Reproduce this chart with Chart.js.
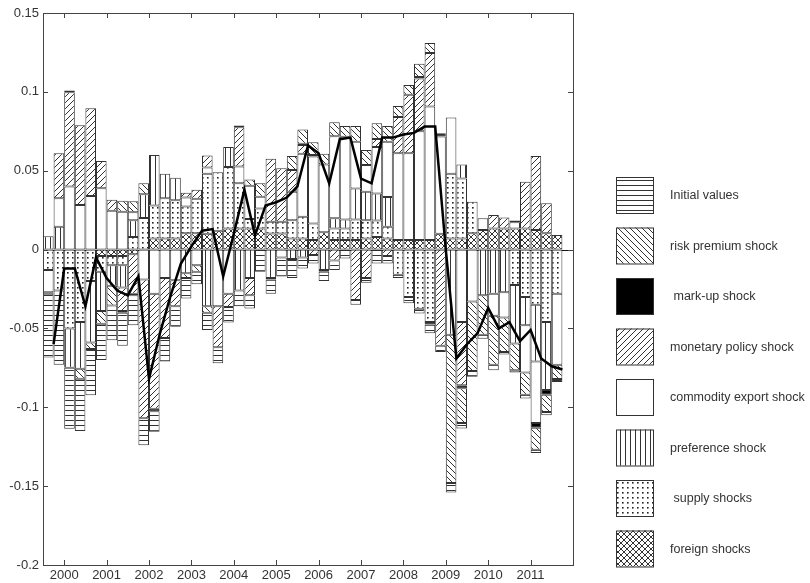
<!DOCTYPE html>
<html>
<head>
<meta charset="utf-8">
<script src="https://cdn.jsdelivr.net/npm/chart.js@4.4.1/dist/chart.umd.min.js"></script>
<style>
  html, body { margin: 0; padding: 0; background: #fff; }
  canvas { display: block; }
</style>
</head>
<body>
<canvas id="decompChart" width="810" height="583"></canvas>
<script>
// quarters shown as bars (bar spans the quarter, the line sits at quarter end)
var periods = [
    '1999Q3', '1999Q4',
    '2000Q1', '2000Q2', '2000Q3', '2000Q4',
    '2001Q1', '2001Q2', '2001Q3', '2001Q4',
    '2002Q1', '2002Q2', '2002Q3', '2002Q4',
    '2003Q1', '2003Q2', '2003Q3', '2003Q4',
    '2004Q1', '2004Q2', '2004Q3', '2004Q4',
    '2005Q1', '2005Q2', '2005Q3', '2005Q4',
    '2006Q1', '2006Q2', '2006Q3', '2006Q4',
    '2007Q1', '2007Q2', '2007Q3', '2007Q4',
    '2008Q1', '2008Q2', '2008Q3', '2008Q4',
    '2009Q1', '2009Q2', '2009Q3', '2009Q4',
    '2010Q1', '2010Q2', '2010Q3', '2010Q4',
    '2011Q1', '2011Q2', '2011Q3'
];
var yearTicks = [2000, 2001, 2002, 2003, 2004, 2005, 2006, 2007, 2008, 2009, 2010, 2011];
var yTicks = [-0.2, -0.15, -0.1, -0.05, 0, 0.05, 0.1, 0.15];

var initialValues = [
    -0.0405, -0.047, -0.0386, -0.0331, -0.0294, -0.023, -0.022, -0.021, -0.019, -0.017,
    -0.013, -0.015, -0.013, -0.013, -0.008, -0.011, -0.010, -0.0098, -0.010, -0.0084,
    -0.014, -0.009, -0.012, -0.012, -0.007, -0.0053, -0.006, -0.006, -0.0056, -0.003,
    -0.003, -0.0088, -0.0048, -0.002, -0.004, -0.003, -0.0055, -0.0039, -0.006, -0.0035,
    -0.0037, -0.0025, -0.0035, -0.0016, -0.0015, -0.0025, -0.002, -0.002, -0.002
];
var riskPremium = [
    0, 0, 0, -0.0063, -0.004, -0.008, -0.0125, 0.007, 0.007, 0.007,
    0, 0, 0, -0.003, -0.004, -0.004, 0, 0, 0, 0.004,
    0.0085, 0, 0, 0.009, 0.009, 0.008, 0.0068, 0.0089, 0.0068, 0.010,
    0.0095, 0.010, 0.010, 0.007, 0.0063, 0.0085, 0.0063, 0, -0.094, -0.022,
    -0.044, -0.025, -0.031, -0.022, -0.017, -0.014, -0.014, -0.011, -0.009
];
var markUp = [
    -0.001, 0, 0.001, 0, 0, 0, 0, -0.001, -0.001, 0,
    -0.0015, 0, 0, 0, 0, 0, 0, 0, 0.001, 0,
    0, -0.001, 0, 0, 0.0008, 0.001, -0.001, 0, 0, 0,
    0, 0, 0, 0, 0, 0.001, -0.0015, 0.002, 0, -0.002,
    0, 0, 0, 0, 0.001, 0, -0.003, -0.003, 0
];
var monetaryPolicy = [
    0, 0.0285, 0.0598, 0.0505, 0.0556, 0.0173, 0.007, -0.015, -0.025, -0.088,
    -0.073, -0.038, -0.0166, 0.003, 0.0057, 0.0076, -0.026, -0.0084, 0.025, -0.011,
    0, 0.040, 0.034, 0.0138, 0.0055, -0.0035, 0, -0.007, 0, -0.032,
    -0.018, 0.005, -0.004, 0.023, 0.037, 0.0334, 0.034, -0.061, 0, -0.040,
    0, 0, 0.0085, 0.007, 0, 0.0296, 0.047, 0.019, 0
];
var commodityExport = [
    -0.014, 0.018, 0.040, 0.0283, 0.034, 0.0389, 0.0246, 0.024, 0.005, -0.019,
    -0.028, -0.018, -0.0194, 0.0057, -0.010, 0.004, -0.036, -0.028, 0.0106, 0.021,
    0.0075, 0, -0.005, 0.018, 0.040, 0.0425, 0.043, 0.052, 0.0525, 0.0296,
    0.017, 0.0296, 0.035, 0.055, 0.0551, 0.069, 0.0847, 0.0617, 0.0357, -0.046,
    -0.033, 0.0074, -0.014, -0.016, 0.004, -0.030, -0.039, 0, -0.045
];
var preference = [
    0.0085, 0.0145, -0.025, -0.0296, -0.039, -0.025, -0.013, -0.014, 0.0106, 0.015,
    0.032, 0.0155, 0.0142, -0.015, 0, -0.036, 0, 0.0127, -0.026, -0.018,
    0, -0.018, 0, -0.006, -0.005, 0, -0.013, 0.0064, 0.0057, 0.0197,
    0.018, 0.017, 0.019, 0, 0, 0, 0, 0, -0.054, 0.009,
    0, -0.029, -0.028, -0.027, -0.037, -0.018, -0.036, -0.043, 0
];
var supply = [
    -0.013, -0.026, -0.050, -0.046, -0.020, -0.010, -0.006, -0.006, 0.008, 0.020,
    0.021, 0.0255, 0.0243, 0.017, 0.022, 0.038, 0.037, 0.039, 0.0286, 0.006,
    0.0126, 0.0074, 0.0074, 0.0116, 0.0138, 0.0105, 0, 0.0074, 0.0074, 0.013,
    0.0116, 0.0105, 0.0074, -0.016, -0.030, -0.0375, -0.046, 0, 0.041, 0.038,
    0.0201, 0, 0, 0, -0.0225, -0.030, -0.035, -0.046, -0.028
];
var foreign = [
    0, 0, 0, 0, 0, -0.004, -0.004, -0.004, -0.003, 0,
    0.007, 0.007, 0.007, 0.0103, 0.0103, 0.010, 0.012, 0.0134, 0.0134, 0.0134,
    0.0134, 0.0102, 0.0102, 0.007, 0.007, 0.006, 0.011, 0.006, 0.006, 0.006,
    0.007, 0.008, 0.007, 0.006, 0.006, 0.006, 0.006, 0.010, 0.007, 0.007,
    0.0103, 0.0124, 0.0134, 0.0134, 0.0134, 0.0134, 0.0124, 0.0103, 0.0092
];
var total = [
    -0.060, -0.012, -0.012, -0.036, -0.005, -0.018, -0.026, -0.029, -0.017, -0.082,
    -0.054, -0.030, -0.009, 0.002, 0.012, 0.013, -0.017, 0.010, 0.038, 0.009,
    0.028, 0.030, 0.033, 0.040, 0.066, 0.061, 0.042, 0.070, 0.071, 0.045,
    0.042, 0.071, 0.071, 0.073, 0.074, 0.078, 0.078, 0.000, -0.069, -0.060,
    -0.053, -0.037, -0.050, -0.046, -0.058, -0.051, -0.069, -0.074, -0.076
];

document.addEventListener("DOMContentLoaded", function () {
    var canvas = document.getElementById('decompChart');
    var ctx = canvas.getContext('2d');

    Chart.defaults.font.family = '"Liberation Sans", Arial, sans-serif';
    Chart.defaults.font.size = 13;
    Chart.defaults.color = '#333';

    function quarterStart(p) {
        return parseInt(p.slice(0, 4), 10) + (parseInt(p.slice(5), 10) - 1) * 0.25;
    }

    // small tiles turned into fill patterns, like the matlab hatch fills
    function makePattern(kind) {
        var t = document.createElement('canvas');
        var s = 6;
        if (kind === 'hlines') { t.width = 6; t.height = 5; }
        else if (kind === 'vlines') { t.width = 5; t.height = 6; }
        else if (kind === 'dots') { t.width = 5; t.height = 5; }
        else { t.width = s; t.height = s; }
        var g = t.getContext('2d');
        g.fillStyle = kind === 'solid' ? '#000' : '#fff';
        g.fillRect(0, 0, t.width, t.height);
        g.strokeStyle = '#333';
        g.lineWidth = 1;
        g.beginPath();
        if (kind === 'hlines') {
            g.moveTo(0, 0.5); g.lineTo(6, 0.5);
        } else if (kind === 'vlines') {
            g.moveTo(0.5, 0); g.lineTo(0.5, 6);
        } else if (kind === 'back' || kind === 'cross') {
            g.moveTo(0, 0); g.lineTo(s, s);
            g.moveTo(-1, s - 1); g.lineTo(1, s + 1);
            g.moveTo(s - 1, -1); g.lineTo(s + 1, 1);
        }
        if (kind === 'fwd' || kind === 'cross') {
            g.moveTo(0, s); g.lineTo(s, 0);
            g.moveTo(-1, 1); g.lineTo(1, -1);
            g.moveTo(s - 1, s + 1); g.lineTo(s + 1, s - 1);
        }
        g.stroke();
        if (kind === 'dots') {
            g.fillStyle = '#222';
            g.fillRect(2, 2, 1.6, 1.6);
        }
        return ctx.createPattern(t, 'repeat');
    }

    // legend order (top to bottom)
    var series = [
        { label: 'Initial values', data: initialValues, fill: makePattern('hlines') },
        { label: 'risk premium shock', data: riskPremium, fill: makePattern('back') },
        { label: ' mark-up shock', data: markUp, fill: makePattern('solid') },
        { label: 'monetary policy shock', data: monetaryPolicy, fill: makePattern('fwd') },
        { label: 'commodity export shock', data: commodityExport, fill: makePattern('blank') },
        { label: 'preference shock', data: preference, fill: makePattern('vlines') },
        { label: ' supply shocks', data: supply, fill: makePattern('dots') },
        { label: 'foreign shocks', data: foreign, fill: makePattern('cross') }
    ];

    // stacking starts at zero with the last legend entry
    var datasets = series.slice().reverse().map(function (s) {
        return {
            label: s.label,
            order: 1,
            data: s.data.map(function (v, i) {
                return { x: quarterStart(periods[i]) + 0.125, y: v === 0 ? null : v };
            }),
            backgroundColor: s.fill,
            borderColor: '#333',
            borderWidth: 1,
            borderSkipped: false,
            inflateAmount: 0,
            barPercentage: 1,
            categoryPercentage: 1
        };
    });

    datasets.push({
        type: 'line',
        label: 'total',
        order: 0,
        stack: 'total',
        data: total.map(function (v, i) {
            return { x: quarterStart(periods[i]) + 0.25, y: v };
        }),
        borderColor: '#000',
        borderWidth: 2.5,
        pointRadius: 0,
        fill: false,
        tension: 0
    });

    var framePlugin = {
        id: 'frame',
        beforeDatasetsDraw: function (chart) {
            var c = chart.ctx, a = chart.chartArea;
            var y0 = Math.round(chart.scales.y.getPixelForValue(0)) + 0.5;
            c.save();
            c.strokeStyle = '#111';
            c.lineWidth = 1;
            c.beginPath();
            c.moveTo(a.left, y0);
            c.lineTo(a.right, y0);
            c.stroke();
            c.restore();
        },
        afterDraw: function (chart) {
            var c = chart.ctx, a = chart.chartArea;
            var xs = chart.scales.x, ys = chart.scales.y;
            c.save();
            c.strokeStyle = '#444';
            c.lineWidth = 1;
            c.strokeRect(Math.round(a.left) + 0.5, Math.round(a.top) + 0.5,
                Math.round(a.right - a.left), Math.round(a.bottom - a.top));
            c.beginPath();
            yearTicks.forEach(function (t) {
                var x = Math.round(xs.getPixelForValue(t)) + 0.5;
                c.moveTo(x, a.bottom); c.lineTo(x, a.bottom - 5);
                c.moveTo(x, a.top); c.lineTo(x, a.top + 5);
            });
            yTicks.forEach(function (t) {
                var y = Math.round(ys.getPixelForValue(t)) + 0.5;
                c.moveTo(a.left, y); c.lineTo(a.left + 5, y);
                c.moveTo(a.right, y); c.lineTo(a.right - 5, y);
            });
            c.stroke();

            // legend column on the right
            c.font = '12.5px "Liberation Sans", Arial, sans-serif';
            c.textBaseline = 'middle';
            c.textAlign = 'left';
            series.forEach(function (s, i) {
                var top = 177 + i * 50.5;
                c.fillStyle = s.fill;
                c.fillRect(616, top, 37, 36);
                c.strokeStyle = '#333';
                c.strokeRect(616.5, top + 0.5, 37, 36);
                c.fillStyle = '#333';
                c.fillText(s.label, 670, top + 19);
            });
            c.restore();
        }
    };

    new Chart(ctx, {
        type: 'bar',
        data: { datasets: datasets },
        options: {
            responsive: false,
            animation: false,
            layout: { padding: { top: 13, right: 237, bottom: 0, left: 0 } },
            plugins: {
                legend: { display: false },
                tooltip: { enabled: false }
            },
            scales: {
                x: {
                    type: 'linear',
                    stacked: true,
                    min: 1999.5,
                    max: 2012,
                    offset: false,
                    grid: { display: false, drawTicks: false },
                    border: { display: false },
                    afterBuildTicks: function (axis) {
                        axis.ticks = yearTicks.map(function (v) { return { value: v }; });
                    },
                    afterFit: function (axis) { axis.height = 18; },
                    ticks: {
                        padding: 3,
                        maxRotation: 0,
                        autoSkip: false,
                        callback: function (v) { return String(v); }
                    }
                },
                y: {
                    stacked: true,
                    min: -0.2,
                    max: 0.15,
                    grid: { display: false, drawTicks: false },
                    border: { display: false },
                    afterBuildTicks: function (axis) {
                        axis.ticks = yTicks.map(function (v) { return { value: v }; });
                    },
                    afterFit: function (axis) { axis.width = 43; },
                    ticks: {
                        padding: 4,
                        callback: function (v) { return String(Math.round(v * 100) / 100); }
                    }
                }
            }
        },
        plugins: [framePlugin]
    });
});
</script>
</body>
</html>
